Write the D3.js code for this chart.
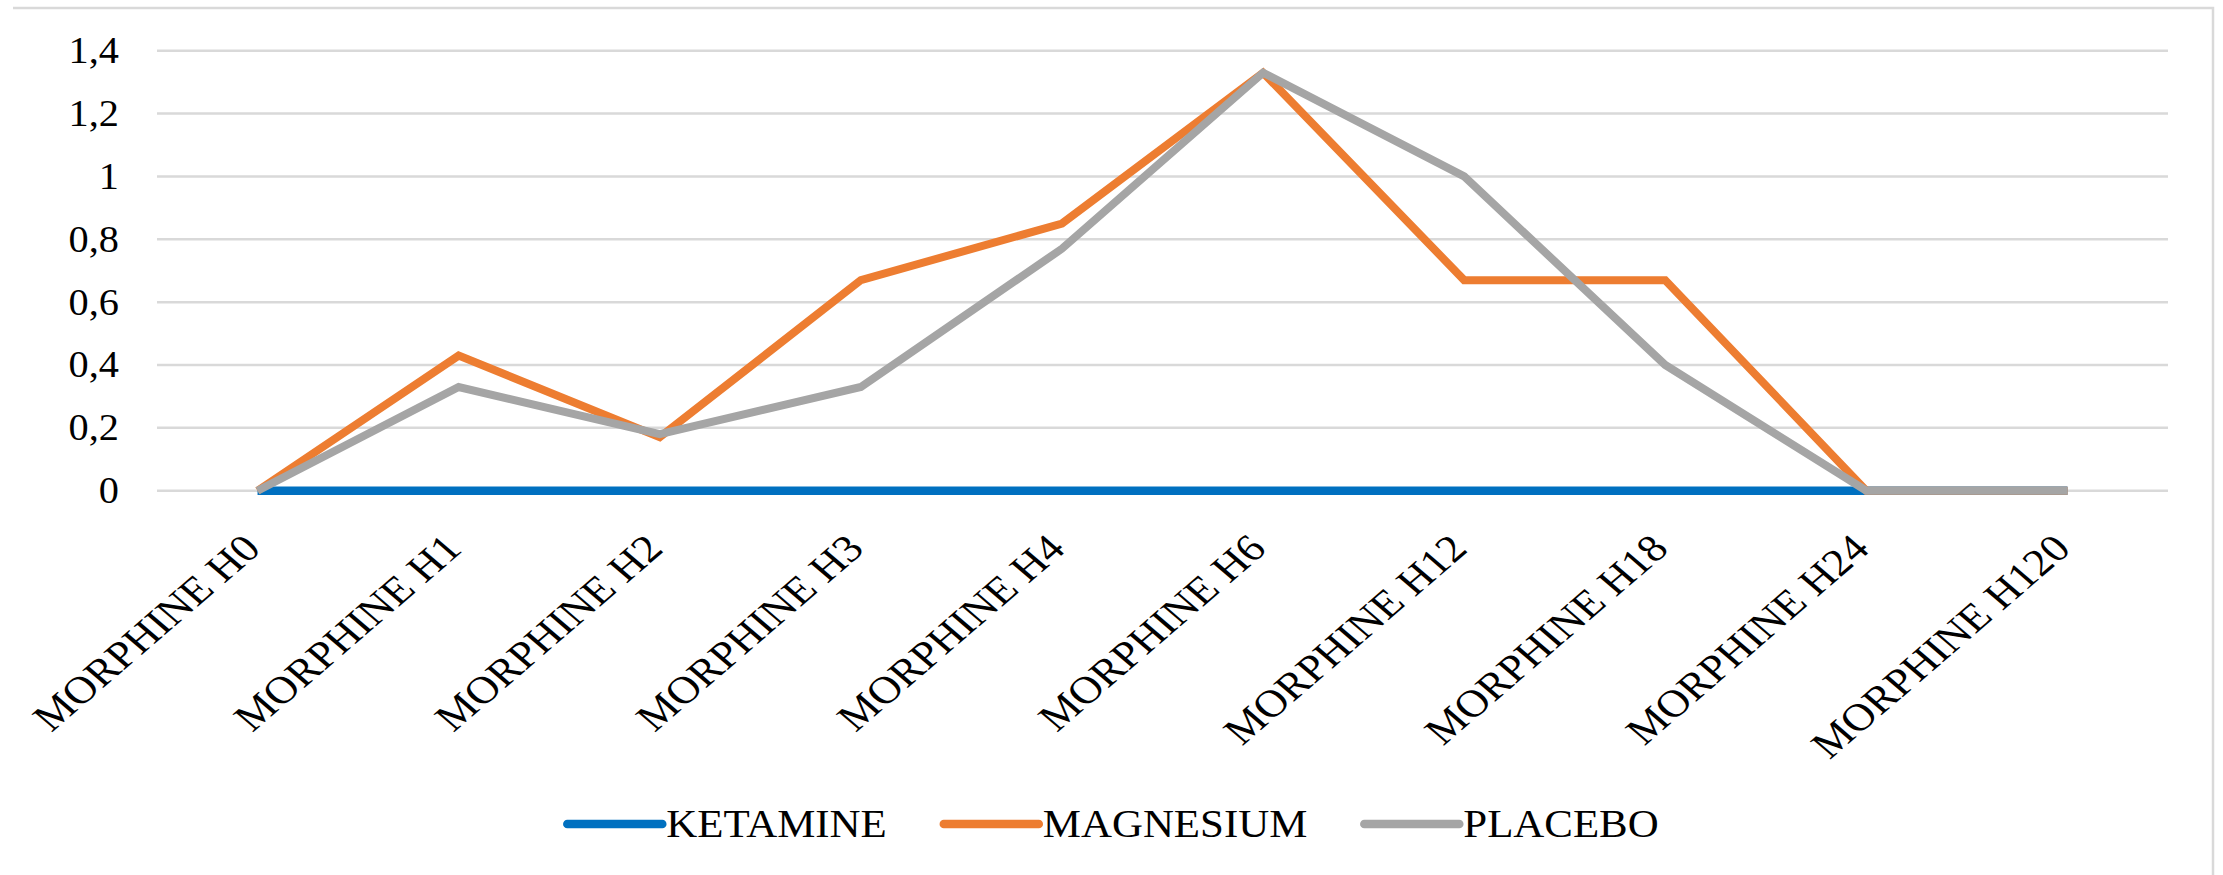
<!DOCTYPE html>
<html>
<head>
<meta charset="utf-8">
<script src="https://cdn.jsdelivr.net/npm/d3@7"></script>
<style>
  html, body { margin: 0; padding: 0; background: #ffffff; }
  svg { display: block; }
</style>
</head>
<body>
<svg id="chart" width="2223" height="875"></svg>
<script>
// Morphine consumption by time point, per treatment group
const categories = ["MORPHINE H0", "MORPHINE H1", "MORPHINE H2", "MORPHINE H3", "MORPHINE H4",
                    "MORPHINE H6", "MORPHINE H12", "MORPHINE H18", "MORPHINE H24", "MORPHINE H120"];
const ketamine  = [0, 0, 0, 0, 0, 0, 0, 0, 0, 0];
const magnesium = [0, 0.43, 0.17, 0.67, 0.85, 1.33, 0.67, 0.67, 0, 0];
const placebo   = [0, 0.33, 0.18, 0.33, 0.77, 1.33, 1.0, 0.4, 0, 0];
const seriesNames = ["KETAMINE", "MAGNESIUM", "PLACEBO"];
const seriesColors = ["#0070C0", "#ED7D31", "#A5A5A5"];
const yTicks = [0, 0.2, 0.4, 0.6, 0.8, 1, 1.2, 1.4];
const yTickLabels = ["0", "0,2", "0,4", "0,6", "0,8", "1", "1,2", "1,4"];

const FONT = "Liberation Serif";

const series = [ketamine, magnesium, placebo].map((values, i) => ({
  name: seriesNames[i], color: seriesColors[i], values
}));

const svg = d3.select("#chart");
const plot = { left: 157, right: 2168, top: 50.7, bottom: 490.7 };

// chart frame (top and right edges visible)
svg.append("path")
  .attr("d", "M13,8H2213V875")
  .attr("fill", "none")
  .attr("stroke", "#d9d9d9")
  .attr("stroke-width", 2.5);

const x = d3.scalePoint().domain(categories).range([plot.left, plot.right]).padding(0.5);
const y = d3.scaleLinear().domain([0, 1.4]).range([plot.bottom, plot.top]);

// horizontal gridlines
svg.append("g")
  .selectAll("line")
  .data(yTicks)
  .join("line")
  .attr("x1", plot.left).attr("x2", plot.right)
  .attr("y1", d => y(d)).attr("y2", d => y(d))
  .attr("stroke", "#d9d9d9")
  .attr("stroke-width", 2.5);

// y axis labels
svg.append("g")
  .selectAll("text")
  .data(yTicks)
  .join("text")
  .attr("transform", d => `translate(119,${y(d) + 12.5}) scale(1.09,1)`)
  .attr("text-anchor", "end")
  .attr("font-family", FONT)
  .style("font-family", FONT)
  .attr("font-size", 37)
  .attr("fill", "#000")
  .text((d, i) => yTickLabels[i]);

// x axis labels, rotated
svg.append("g")
  .selectAll("text")
  .data(categories)
  .join("text")
  .attr("transform", d => `translate(${x(d) + 5},${plot.bottom + 60}) scale(1.16,1) rotate(-45)`)
  .attr("text-anchor", "end")
  .attr("font-family", FONT)
  .style("font-family", FONT)
  .attr("font-size", 38.5)
  .attr("fill", "#000")
  .text(d => d);

// series lines
const line = d3.line()
  .x((d, i) => x(categories[i]))
  .y(d => y(d));

svg.append("g")
  .selectAll("path")
  .data(series)
  .join("path")
  .attr("d", d => line(d.values))
  .attr("fill", "none")
  .attr("stroke", d => d.color)
  .attr("stroke-width", (d, i) => i === 0 ? 8.5 : 8)
  .attr("stroke-linejoin", "miter")
  .attr("stroke-linecap", "butt");

// legend, centred under the plot
const legend = svg.append("g");
const lineLen = 95, textGap = 4, itemGap = 57, legendY = 824;
const items = legend.selectAll("g")
  .data(series)
  .join("g");
items.append("line")
  .attr("x1", 0).attr("x2", lineLen)
  .attr("y1", 0).attr("y2", 0)
  .attr("stroke", d => d.color)
  .attr("stroke-width", 8.5)
  .attr("stroke-linecap", "round");
items.append("text")
  .attr("font-size", 39)
  .attr("font-family", FONT)
  .style("font-family", FONT)
  .attr("fill", "#000")
  .attr("transform", `translate(${lineLen + textGap},12.7) scale(1.1,1)`)
  .text(d => d.name);

let cursor = 0;
const offsets = [];
items.each(function () {
  const w = this.querySelector("text").getComputedTextLength() * 1.1;
  offsets.push(cursor);
  cursor += lineLen + textGap + w + itemGap;
});
const total = cursor - itemGap;
const startX = 1113 - total / 2;
items.attr("transform", (d, i) => `translate(${startX + offsets[i]},${legendY})`);
</script>
</body>
</html>
